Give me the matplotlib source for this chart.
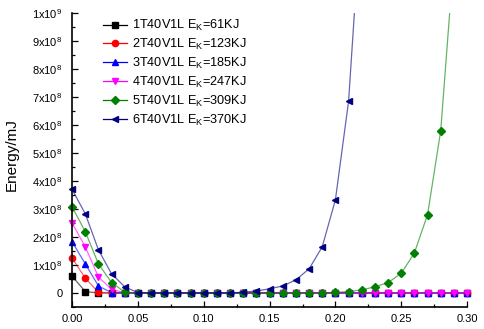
import numpy as np
import matplotlib.pyplot as plt
from matplotlib.ticker import MultipleLocator, FuncFormatter

plt.rcParams['font.family'] = ['Liberation Sans', 'DejaVu Sans']
plt.rcParams['mathtext.default'] = 'regular'

# displacement (m), one marker every 0.01
x = np.round(np.arange(0, 0.301, 0.01), 2)

# energy in units of 1e8 mJ (series 5 and 6 stop once they leave the plot)
e1 = [0.60, 0.05] + [0.0] * 29
e2 = [1.25, 0.53, 0.02] + [0.0] * 28
e3 = [1.83, 1.04, 0.25, 0.01] + [0.0] * 27
e4 = [2.50, 1.65, 0.57, 0.13, 0.01] + [0.0] * 26
e5 = ([3.08, 2.19, 1.04, 0.37, 0.03] + [0.0] * 15
      + [0.02, 0.05, 0.11, 0.22, 0.37, 0.70, 1.43, 2.80, 5.80, 12.0])
e6 = ([3.70, 2.83, 1.54, 0.68, 0.22, 0.01] + [0.0] * 7
      + [0.03, 0.07, 0.15, 0.25, 0.47, 0.86, 1.65, 3.33, 6.85, 14.0])

labels = ['1T40V1L E$_K$=61KJ', '2T40V1L E$_K$=123KJ', '3T40V1L E$_K$=185KJ',
          '4T40V1L E$_K$=247KJ', '5T40V1L E$_K$=309KJ', '6T40V1L E$_K$=370KJ']
series = [e1, e2, e3, e4, e5, e6]
colors = ['black', 'red', 'blue', 'magenta', 'green', 'navy']
markers = ['s', 'o', '^', 'v', 'D', '<']
msizes = [4, 4.5, 5, 5, 4.5, 5]

fig = plt.figure(figsize=(4.84, 3.29), dpi=100)
ax = fig.add_axes([0.149, 0.067, 0.816, 0.893])

for y, c, m, ms, lab in zip(series, colors, markers, msizes, labels):
    y = np.array(y) * 1e8
    xs = x[:len(y)]
    ax.plot(xs, y, color=c, lw=0.9, alpha=0.6)
    ok = y <= 1e9
    ax.plot(xs[ok], y[ok], ls='none', marker=m, ms=ms, color=c, clip_on=False)
    # legend handle
    ax.plot([], [], color=c, lw=0.9, marker=m, ms=ms, mfc=c, mec=c, label=lab)

ax.set_xlim(0, 0.30)
ax.set_ylim(-0.5e8, 1e9)

ax.xaxis.set_major_locator(MultipleLocator(0.05))
ax.xaxis.set_minor_locator(MultipleLocator(0.025))
ax.yaxis.set_major_locator(MultipleLocator(1e8))
ax.yaxis.set_minor_locator(MultipleLocator(0.5e8))
ax.xaxis.set_major_formatter(FuncFormatter(lambda v, p: '%.2f' % v))

def yfmt(v, p):
    n = int(round(v / 1e8))
    if n == 0:
        return '0'
    if n == 10:
        return r'1x10$^9$'
    return r'%dx10$^8$' % n

ax.yaxis.set_major_formatter(FuncFormatter(yfmt))

ax.tick_params(which='both', direction='in', labelsize=8, width=0.9)
ax.tick_params(which='major', length=4)
ax.tick_params(which='minor', length=2)
ax.tick_params(axis='y', pad=7)
ax.tick_params(axis='x', pad=5)
ax.spines['top'].set_visible(False)
ax.spines['right'].set_visible(False)
ax.spines['left'].set_linewidth(1.2)
ax.spines['bottom'].set_linewidth(1.2)

ax.set_ylabel('Energy/mJ', fontsize=11)
ax.yaxis.set_label_coords(-0.135, 0.52)

handles, labs = ax.get_legend_handles_labels()
fig.legend(handles[-6:], labs[-6:], loc='upper left',
           bbox_to_anchor=(103 / 484, 1 - 18 / 329), borderaxespad=0, borderpad=0,
           frameon=False, fontsize=9.2, numpoints=1, handlelength=1.85,
           labelspacing=0.3, handletextpad=0.45)

fig.savefig('out.png', dpi=100)
